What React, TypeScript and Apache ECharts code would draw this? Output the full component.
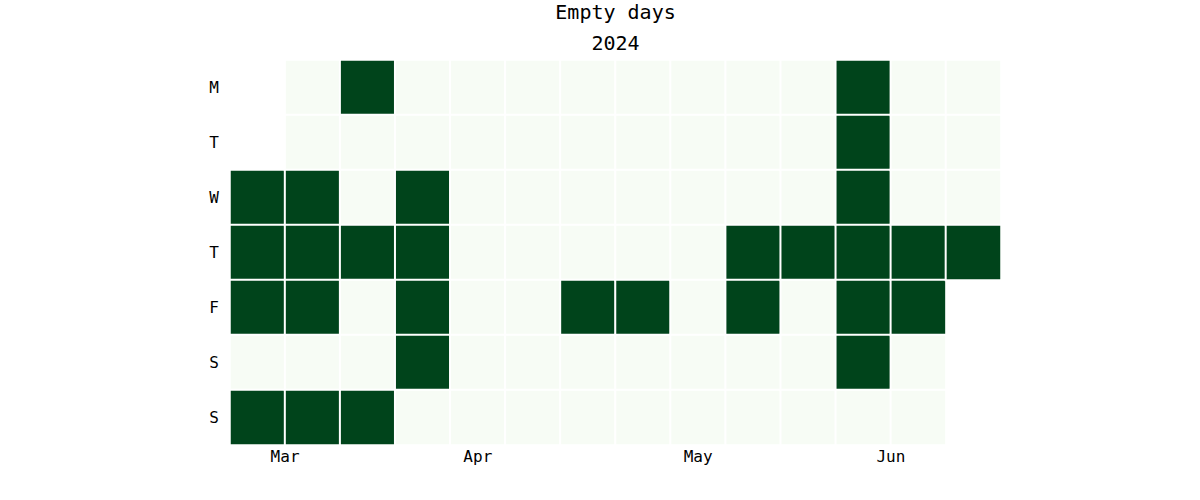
import React, { useEffect, useRef } from "react";
import * as echarts from "echarts";

const chartTitle = "Empty days";
const yearLabel = "2024";
const dayLabels = ["M", "T", "W", "T", "F", "S", "S"];
const startDate = "2024-03-06";
const endDate = "2024-06-06";
const emptyDays = [
  "2024-03-06", "2024-03-07", "2024-03-08", "2024-03-10",
  "2024-03-13", "2024-03-14", "2024-03-15", "2024-03-17",
  "2024-03-18", "2024-03-21", "2024-03-24",
  "2024-03-27", "2024-03-28", "2024-03-29", "2024-03-30",
  "2024-04-19", "2024-04-26",
  "2024-05-09", "2024-05-10", "2024-05-16",
  "2024-05-20", "2024-05-21", "2024-05-22", "2024-05-23", "2024-05-24", "2024-05-25",
  "2024-05-30", "2024-05-31", "2024-06-06",
];
const monthLabels = ["Mar", "Apr", "May", "Jun"];
const monthLabelWeeks = [0.5, 4, 8, 11.5];

const FONT = '"DejaVu Sans Mono", monospace';
const DAY = 86400000;

function buildData() {
  const start = Date.parse(startDate + "T00:00:00Z");
  const end = Date.parse(endDate + "T00:00:00Z");
  const startDow = (new Date(start).getUTCDay() + 6) % 7;
  const monday0 = start - startDow * DAY;
  const set = new Set(emptyDays);
  const data: any[] = [];
  let weeks = 0;
  for (let t = start; t <= end; t += DAY) {
    const d = new Date(t);
    const iso = d.toISOString().slice(0, 10);
    const week = Math.floor((t - monday0) / (7 * DAY));
    const dow = (d.getUTCDay() + 6) % 7;
    weeks = Math.max(weeks, week + 1);
    data.push({ value: [week, dow, set.has(iso) ? 1 : 0], name: iso });
  }
  return { data, weeks };
}

export default function App() {
  const ref = useRef<HTMLDivElement>(null);
  useEffect(() => {
    if (!ref.current) return;
    const chart = echarts.init(ref.current, undefined, { renderer: "svg" });
    const { data, weeks } = buildData();
    const weekCats = Array.from({ length: weeks }, (_, i) => String(i));
    const gridLeft = 230;
    const gridWidth = 771;
    chart.setOption({
      animation: false,
      backgroundColor: "#ffffff",
      textStyle: { fontFamily: FONT },
      graphic: [
        {
          type: "text",
          x: gridLeft + gridWidth / 2,
          y: 12,
          style: { text: chartTitle, font: `20px ${FONT}`, fill: "#000", align: "center", verticalAlign: "middle" },
        },
        {
          type: "text",
          x: gridLeft + gridWidth / 2,
          y: 43,
          style: { text: yearLabel, font: `20px ${FONT}`, fill: "#000", align: "center", verticalAlign: "middle" },
        },
      ],
      grid: { left: gridLeft, top: 60, width: gridWidth, height: 385, containLabel: false },
      xAxis: [
        {
          type: "category",
          data: weekCats,
          axisLine: { show: false },
          axisTick: { show: false },
          axisLabel: { show: false },
          splitLine: { show: false },
        },
        {
          type: "value",
          min: -0.5,
          max: weeks - 0.5,
          position: "bottom",
          axisLine: { show: false },
          axisTick: { show: false },
          splitLine: { show: false },
          axisLabel: {
            customValues: monthLabelWeeks,
            formatter: (v: number) => {
              const i = monthLabelWeeks.indexOf(v);
              return i >= 0 ? monthLabels[i] : "";
            },
            margin: 3,
            fontSize: 16,
            fontFamily: FONT,
            color: "#000",
          },
        },
      ],
      yAxis: {
        type: "category",
        data: dayLabels,
        inverse: true,
        axisLine: { show: false },
        axisTick: { show: false },
        splitLine: { show: false },
        axisLabel: { margin: 11, fontSize: 16, fontFamily: FONT, color: "#000" },
      },
      visualMap: {
        show: false,
        min: 0,
        max: 1,
        dimension: 2,
        inRange: { color: ["#f7fcf5", "#00441b"] },
      },
      series: [
        {
          type: "heatmap",
          xAxisIndex: 0,
          yAxisIndex: 0,
          data,
          itemStyle: { borderColor: "#ffffff", borderWidth: 2 },
          emphasis: { disabled: true },
        },
      ],
    });
    return () => chart.dispose();
  }, []);
  return <div ref={ref} style={{ position: "fixed", left: 0, top: 0, width: 1200, height: 500 }} />;
}
